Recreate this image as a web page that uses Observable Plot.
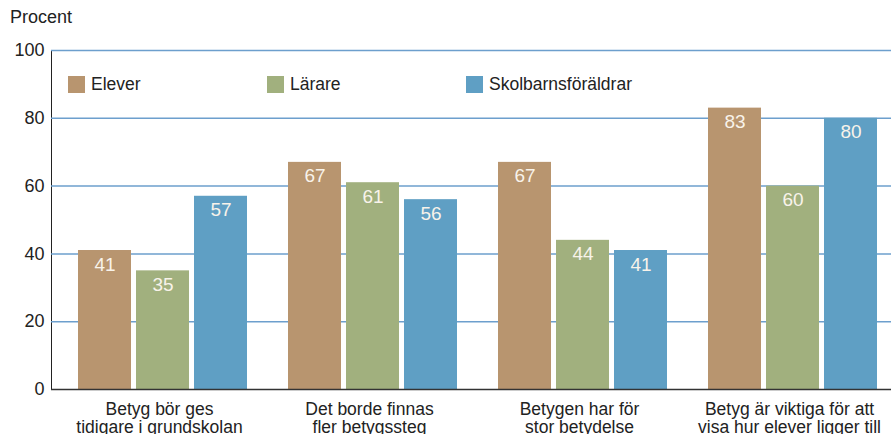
<!DOCTYPE html>
<html>
<head>
<meta charset="utf-8">
<script src="https://cdn.jsdelivr.net/npm/d3@7"></script>
<script src="https://cdn.jsdelivr.net/npm/@observablehq/plot@0.6"></script>
<style>
  body { margin: 0; background: #fff; font-family: "Liberation Sans", Arial, sans-serif; }
  #wrap { position: relative; width: 891px; height: 434px; }
  #ylabel { position: absolute; left: 10px; top: 7px; font-size: 18px; color: #222; }
  #legend { position: absolute; left: 68px; top: 74px; }
  #legend .lg-swatches, #legend > div { margin: 0 !important; min-height: 0 !important; }
  #legend .lg-swatch { width: 199px; margin: 0 !important; gap: 0; }
  #legend .lg-swatch svg { margin-right: 6px !important; }
</style>
</head>
<body>
<div id="wrap"><div id="ylabel">Procent</div><div id="legend"></div></div>
<script>
const groups = [
  "Betyg bör ges\ntidigare i grundskolan",
  "Det borde finnas\nfler betygssteg",
  "Betygen har för\nstor betydelse",
  "Betyg är viktiga för att\nvisa hur elever ligger till"
];
const series = ["Elever", "Lärare", "Skolbarnsföräldrar"];
const colors = ["#b8956f", "#a1b07e", "#5f9fc4"];
const elever = [41, 67, 67, 83];
const larare = [35, 61, 44, 60];
const foraldrar = [57, 56, 41, 80];
const yTicks = [0, 20, 40, 60, 80, 100];
const gridTicks = [20, 40, 60, 80, 100];

const valuesBySeries = [elever, larare, foraldrar];
const data = [];
groups.forEach((g, i) => series.forEach((s, j) => data.push({group: g, series: s, value: valuesBySeries[j][i]})));

const plot = Plot.plot({
  width: 891,
  height: 434,
  marginLeft: 50,
  marginRight: 0,
  marginTop: 50,
  marginBottom: 45,
  style: {fontFamily: "Liberation Sans, Arial, sans-serif", fontSize: "18px", color: "#222", background: "#fff"},
  fx: {domain: groups, padding: 0, axis: null},
  x: {domain: series, paddingInner: 0.094, paddingOuter: 0.344, align: 0.65, axis: null},
  y: {domain: [0, 100], ticks: yTicks, tickSize: 0, tickPadding: 7, label: null, line: true},
  color: {domain: series, range: colors},
  marks: [
    Plot.ruleY(gridTicks, {stroke: "#6d9fcd", strokeWidth: 1.5}),
    Plot.barY(data, {fx: "group", x: "series", y: "value", fill: "series"}),
    Plot.text(data, {fx: "group", x: "series", y: "value", text: d => String(d.value), dy: 14, fill: "#f8f3ea", fontSize: 19}),
    Plot.ruleY([0], {stroke: "#333", strokeWidth: 1.5}),
    Plot.text(groups, {fx: d => d, text: d => d, frameAnchor: "bottom", dx: 3, lineAnchor: "top", dy: 12, fontSize: 17.5, lineHeight: 1.05, fill: "#222"})
  ]
});
document.getElementById("wrap").prepend(plot);

const lg = plot.legend("color", {legend: "swatches", swatchSize: 17, className: "lg", style: {fontSize: "17.5px", color: "#222", fontFamily: "Liberation Sans, Arial, sans-serif"}});
document.getElementById("legend").appendChild(lg);
</script>
</body>
</html>
